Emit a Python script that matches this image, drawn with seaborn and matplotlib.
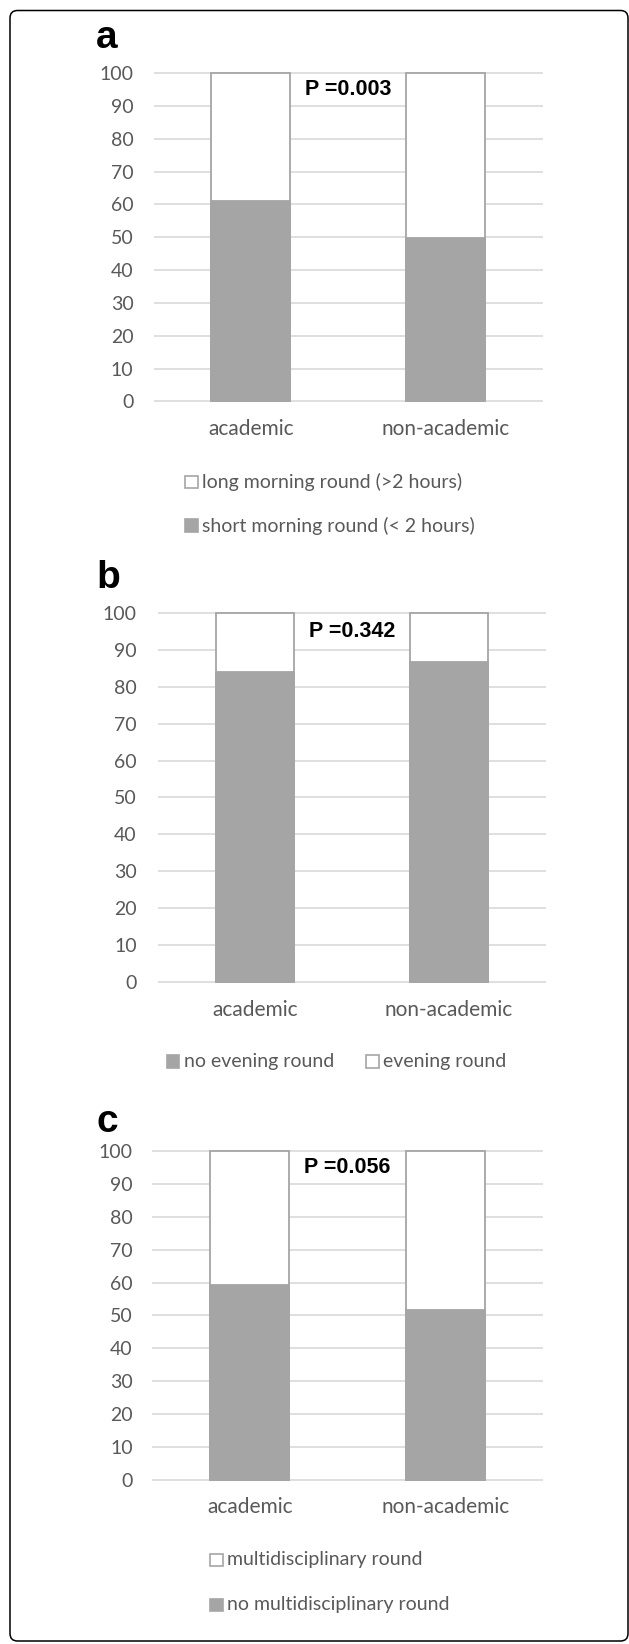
import matplotlib
matplotlib.use("Agg")
import matplotlib.pyplot as plt
import seaborn as sns
import pandas as pd
from matplotlib.patches import Rectangle, FancyBboxPatch
from matplotlib.transforms import Bbox, TransformedBbox

# ---------------------------------------------------------------- data
categories = ["academic", "non-academic"]

# a) share of departments with a short morning round (< 2 hours), %
short_morning = [61.2, 49.9]
# b) share without an evening round, %
no_evening = [84.0, 86.7]
# c) share without a multidisciplinary round, %
no_multidisciplinary = [59.2, 51.8]

p_values = ["P =0.003", "P =0.342", "P =0.056"]
panel_letters = ["a", "b", "c"]

legend_a = ["long morning round (>2 hours)", "short morning round (< 2 hours)"]
legend_b = ["no evening round", "evening round"]
legend_c = ["multidisciplinary round", "no multidisciplinary round"]

y_ticks = list(range(0, 101, 10))

# ---------------------------------------------------------------- style
W, H, DPI = 629, 1644, 100
GREY_BAR = "#a5a5a5"
GREY_EDGE = "#a5a5a5"
GRID = "#d9d9d9"
TEXT = "#595959"

sns.set_theme(style="white")
plt.rcParams["font.family"] = ["Lato", "DejaVu Sans"]

fig = plt.figure(figsize=(W / DPI, H / DPI), dpi=DPI)


def fx(px):
    return px / W


def fy(py):
    return 1 - py / H


def make_axes(x0, x1, y100, y0, margin=1.5):
    unit = (y0 - y100) / 100.0
    top = y100 - margin * unit
    bottom = y0 + margin * unit
    ax = fig.add_axes([fx(x0), fy(bottom), fx(x1) - fx(x0), (bottom - top) / H])
    ax.set_ylim(-margin, 100 + margin)
    return ax


def draw_panel(ax, lower, letter, pval, letter_xy, ypad):
    df = pd.DataFrame({"group": categories, "total": [100, 100], "lower": lower})
    sns.barplot(data=df, x="group", y="total", color="white", saturation=1,
                width=0.405, edgecolor=GREY_EDGE, linewidth=1.3, ax=ax, zorder=3)
    sns.barplot(data=df, x="group", y="lower", color=GREY_BAR, saturation=1,
                width=0.405, edgecolor=GREY_BAR, linewidth=1.3, ax=ax, zorder=4)
    ax.set_xlim(-0.5, 1.5)
    ax.set_ylim(-1.5, 101.5)
    ax.set_yticks(y_ticks)
    ax.set_yticklabels([str(t) for t in y_ticks])
    ax.set_xlabel("")
    ax.set_ylabel("")
    for s in ax.spines.values():
        s.set_visible(False)
    ax.yaxis.grid(True, color=GRID, linewidth=1.2, zorder=0)
    ax.set_axisbelow(True)
    ax.tick_params(axis="y", length=0, pad=ypad, labelsize=14, labelcolor=TEXT)
    ax.tick_params(axis="x", length=0, pad=9, labelsize=15, labelcolor=TEXT)
    ax.text(0.5, 95, pval, ha="center", va="center", fontsize=15.5,
            fontweight="bold", color="black", family=["Liberation Sans", "DejaVu Sans"],
            zorder=6)
    fig.text(fx(letter_xy[0]), fy(letter_xy[1]), letter, ha="left", va="baseline",
             fontsize=28, fontweight="bold", color="black",
             family=["Liberation Sans", "DejaVu Sans"])


def legend_entry(x, y, label, filled, clip_below=None):
    size = 12.5
    sq = Rectangle((fx(x), fy(y + size / 2)), size / W, size / H,
                   transform=fig.transFigure,
                   facecolor=GREY_BAR if filled else "white",
                   edgecolor=GREY_BAR, linewidth=1.2)
    fig.patches.append(sq)
    t = fig.text(fx(x + size + 4.5), fy(y), label, ha="left", va="center",
                 fontsize=14, color=TEXT)
    if clip_below is not None:
        clip = TransformedBbox(Bbox([[0, fy(clip_below)], [1, 1]]), fig.transFigure)
        t.set_clip_on(True)
        t.set_clip_box(clip)
        sq.set_clip_on(True)
        sq.set_clip_box(clip)


# outer rounded frame
frame = FancyBboxPatch((fx(10), fy(1641)), fx(628) - fx(10), (1641 - 10.5) / H,
                       boxstyle="round,pad=0,rounding_size=0.012",
                       transform=fig.transFigure, facecolor="none",
                       edgecolor="black", linewidth=1.1, mutation_aspect=W / H)
fig.patches.append(frame)

# panel a
ax_a = make_axes(153.6, 542.7, 73.2, 401.4)
draw_panel(ax_a, short_morning, panel_letters[0], p_values[0], (96, 48), 14.5)
legend_entry(185, 482, legend_a[0], filled=False)
legend_entry(185, 525.7, legend_a[1], filled=True, clip_below=536)

# panel b
ax_b = make_axes(158.4, 545.5, 613, 981.8)
draw_panel(ax_b, no_evening, panel_letters[1], p_values[1], (96, 588), 15.5)
legend_entry(166.5, 1061.7, legend_b[0], filled=True)
legend_entry(366, 1061.7, legend_b[1], filled=False)

# panel c
ax_c = make_axes(152.4, 542.7, 1151.2, 1479.7)
draw_panel(ax_c, no_multidisciplinary, panel_letters[2], p_values[2], (96, 1131.5), 14.2)
legend_entry(210, 1559.8, legend_c[0], filled=False)
legend_entry(210, 1604.9, legend_c[1], filled=True)

fig.savefig("out.png", dpi=DPI, facecolor="white")
